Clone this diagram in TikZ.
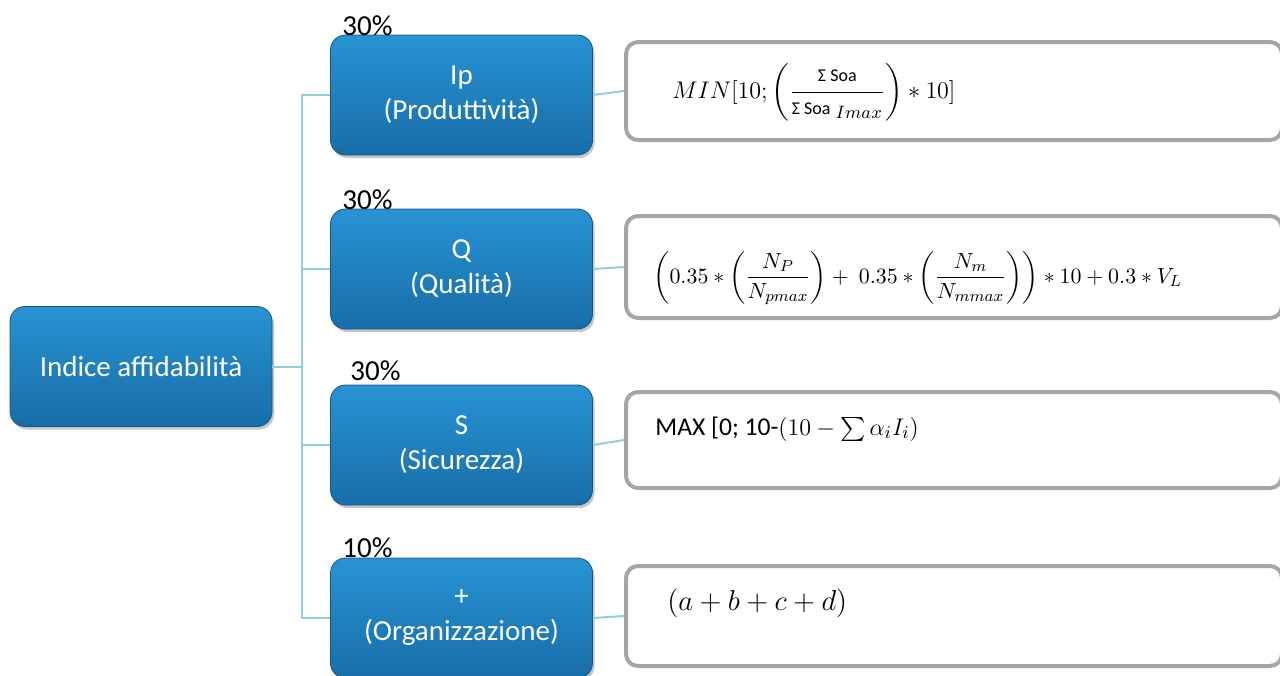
\documentclass[tikz,border=0pt]{standalone}
\usepackage{amsmath}
\usepackage{fontspec}
\setmainfont{Carlito}
\usetikzlibrary{shadows}

\definecolor{boxtop}{HTML}{2893D3}
\definecolor{boxbot}{HTML}{186DA8}
\definecolor{linkblue}{HTML}{93CDDD}
\definecolor{framegray}{HTML}{A6A6A6}

\tikzset{
	bluebox/.style={rectangle, rounded corners=7.5pt, top color=boxtop, bottom color=boxbot,
		draw=boxbot!80!black, line width=0.4pt, text=white, align=center,
		minimum width=131pt, minimum height=60pt, inner sep=2pt,
		drop shadow={opacity=0.45, shadow xshift=1pt, shadow yshift=-1.5pt},
		font=\fontsize{14.5}{17.5}\selectfont},
	percent/.style={anchor=base west, inner sep=0pt, font=\fontsize{14.5}{17.5}\selectfont},
	formbox/.style={rectangle, rounded corners=6pt, draw=framegray, line width=2pt, fill=white,
		minimum width=328pt, minimum height=48pt},
	formula/.style={anchor=base west, inner sep=0pt, font=\fontsize{12.5}{15}\selectfont},
	link/.style={draw=linkblue, line width=1pt}
}

\begin{document}
\begin{tikzpicture}[x=0.5pt, y=-0.5pt]
			%%%%% START %%%%%
			
			\clip (0, 0) rectangle (1280, 675);
			
			% left side
			\node[bluebox] (root) at (141, 366.5) {Indice affidabilità};
			\coordinate (trunk) at (302, 366.5);
			
			\node[bluebox] (ip) at (461.5, 95) {Ip\\(Produttività)};
			\node[bluebox] (q) at (461.5, 269) {Q\\(Qualità)};
			\node[bluebox] (s) at (461.5, 445) {S\\(Sicurezza)};
			\node[bluebox] (org) at (461.5, 618) {+\\(Organizzazione)};
			
			\node[percent] (pip) at (342, 35) {30\%};
			\node[percent] (pq) at (342, 209) {30\%};
			\node[percent] (ps) at (350, 380) {30\%};
			\node[percent] (porg) at (342, 557) {10\%};
			
			\draw[link] (root.east) -- (trunk);
			\foreach \b in {ip, q, s, org}
				\draw[link] (trunk) |- (\b.west);
			
			% right side
			\node[formbox, minimum height=49pt] (f1) at (954, 91) {};
			\node[formbox, minimum height=51pt] (f2) at (954, 267) {};
			\node[formbox, minimum height=48pt] (f3) at (954, 440) {};
			\node[formbox, minimum height=50pt] (f4) at (954, 616) {};
			
			\draw[link] (ip.east) -- (f1.west);
			\draw[link] (q.east) -- (f2.west);
			\draw[link] (s.east) -- (f3.west);
			\draw[link] (org.east) -- (f4.west);
			
			\node[formula] (t1) at (672, 98) {$MIN[10;\left(\dfrac{\text{\small Σ Soa}}{\text{\small Σ Soa}_{\;Imax}}\right)*10]$};
			\node[formula, font=\fontsize{11.3}{14}\selectfont] (t2) at (653, 283) {$\left(0.35*\left(\dfrac{N_P}{N_{pmax}}\right)+\ 0.35*\left(\dfrac{N_m}{N_{mmax}}\right)\right)*10+0.3*V_L$};
			\node[formula, font=\fontsize{12.8}{15}\selectfont] (t3) at (655, 435) {MAX [0; 10-$(10-\sum\alpha_i I_i)$};
			\node[formula, font=\fontsize{14.5}{17}\selectfont] (t4) at (667, 610) {$(a+b+c+d)$};
			
			%%%%% END %%%%%
		\end{tikzpicture}
\end{document}
